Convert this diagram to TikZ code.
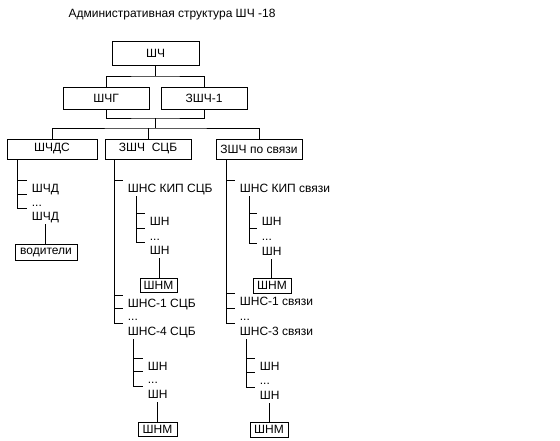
\documentclass[tikz,border=0pt]{standalone}
\usepackage{fontspec}
\setmainfont{Liberation Sans}
\usetikzlibrary{calc}

\begin{document}
\begin{tikzpicture}[x=1pt,y=-1pt,line width=0.8pt,font=\fontsize{12}{14}\selectfont,
    box/.style={draw,inner sep=0pt,minimum width=86pt,minimum height=20pt},
    smallbox/.style={draw,inner sep=0pt,minimum width=38pt,minimum height=15pt},
    item/.style={anchor=north west,inner xsep=4.5pt,inner ysep=2pt,text height=10.5pt,text depth=1pt}]
    \useasboundingbox (0,0) rectangle (560,440);

    \node (title) at (172,15) {Административная структура ШЧ -18};

    \node [box,minimum width=87pt,minimum height=24pt] (chief) at (155.5,53) {ШЧ};
    \node [box,minimum height=22pt] (chg) at (106,98) {ШЧГ};
    \node [box,minimum height=22pt] (zam1) at (204,98) {ЗШЧ-1};
    \node [box,minimum width=90pt] (chds) at (52,149) {ШЧДС};
    \node [box] (scb) at (148,149) {ЗШЧ\ \ СЦБ};
    \node [box] (svz) at (259,149) {ЗШЧ по связи};

    \node [item] (d1) at (27,180) {ШЧД};
    \node [item] (d2) at (27,194) {...};
    \node [item] (d3) at (27,208) {ШЧД};
    \node [box,minimum width=62pt,minimum height=16pt] (drv) at (46,252) {водители};

    \node [item] (k1) at (123,180) {ШНС КИП СЦБ};
    \node [item] (n1) at (145,213) {ШН};
    \node [item] (n2) at (145,228) {...};
    \node [item] (n3) at (145,242) {ШН};
    \node [smallbox,minimum width=37pt,minimum height=14pt] (shm1) at (158.5,285) {ШНМ};
    \node [item] (k2) at (123,295) {ШНС-1 СЦБ};
    \node [item] (k3) at (123,308) {...};
    \node [item] (k4) at (123,323) {ШНС-4 СЦБ};
    \node [item] (m1) at (143,358) {ШН};
    \node [item] (m2) at (143,371) {...};
    \node [item] (m3) at (143,386) {ШН};
    \node [smallbox,minimum width=39pt,minimum height=14pt] (shm3) at (157.5,429) {ШНМ};

    \node [item] (v1) at (235,180) {ШНС КИП связи};
    \node [item] (p1) at (257,213) {ШН};
    \node [item] (p2) at (257,228) {...};
    \node [item] (p3) at (257,243) {ШН};
    \node [smallbox] (shm2) at (272,285.5) {ШНМ};
    \node [item] (v2) at (235,293) {ШНС-1 связи};
    \node [item] (v3) at (235,308) {...};
    \node [item] (v4) at (235,323) {ШНС-3 связи};
    \node [item] (q1) at (255,358) {ШН};
    \node [item] (q2) at (255,372) {...};
    \node [item] (q3) at (255,387) {ШН};
    \node [smallbox] (shm4) at (269,429.5) {ШНМ};

    \coordinate (j1) at (155.5,76);
    \coordinate (j2) at (155.5,118);
    \coordinate (j3) at (155.5,128);
    \draw (chief.south) -- (j1);
    \draw (chg.north) |- (j1) -| (zam1.north);
    \draw (chg.south) |- (j2) -| (zam1.south);
    \draw (j2) -- (j3);
    \draw (chds.north) |- (j3) -| (svz.north);
    \draw (scb.north) -- (scb.north |- j3);

    \coordinate (s1) at ([xshift=11pt]chds.south west);
    \draw (s1) |- (d1.north west);
    \draw (s1) |- (d2.north west);
    \draw (s1) |- (d3.north west);
    \draw (d3.south) -- (d3.south |- drv.north);

    \coordinate (s2) at ([xshift=10pt]scb.south west);
    \draw (s2) |- (k1.north west);
    \draw (s2) |- (k2.north west);
    \draw (s2) |- (k3.north west);
    \draw (s2) |- (k4.north west);
    \coordinate (s21) at ([xshift=13pt]k1.south west);
    \draw (s21) |- (n1.north west);
    \draw (s21) |- (n2.north west);
    \draw (s21) |- (n3.north west);
    \draw (n3.south) -- (n3.south |- shm1.north);
    \coordinate (s22) at ([xshift=10pt]k4.south west);
    \draw (s22) |- (m1.north west);
    \draw (s22) |- (m2.north west);
    \draw (s22) |- (m3.north west);
    \draw (m3.south) -- (m3.south |- shm3.north);

    \coordinate (s3) at ([xshift=11pt]svz.south west);
    \draw (s3) |- (v1.north west);
    \draw (s3) |- (v2.north west);
    \draw (s3) |- (v3.north west);
    \draw (s3) |- (v4.north west);
    \coordinate (s31) at ([xshift=14pt]v1.south west);
    \draw (s31) |- (p1.north west);
    \draw (s31) |- (p2.north west);
    \draw (s31) |- (p3.north west);
    \draw (p3.south) -- (p3.south |- shm2.north);
    \coordinate (s32) at ([xshift=11pt]v4.south west);
    \draw (s32) |- (q1.north west);
    \draw (s32) |- (q2.north west);
    \draw (s32) |- (q3.north west);
    \draw (q3.south) -- (q3.south |- shm4.north);
\end{tikzpicture}
\end{document}
